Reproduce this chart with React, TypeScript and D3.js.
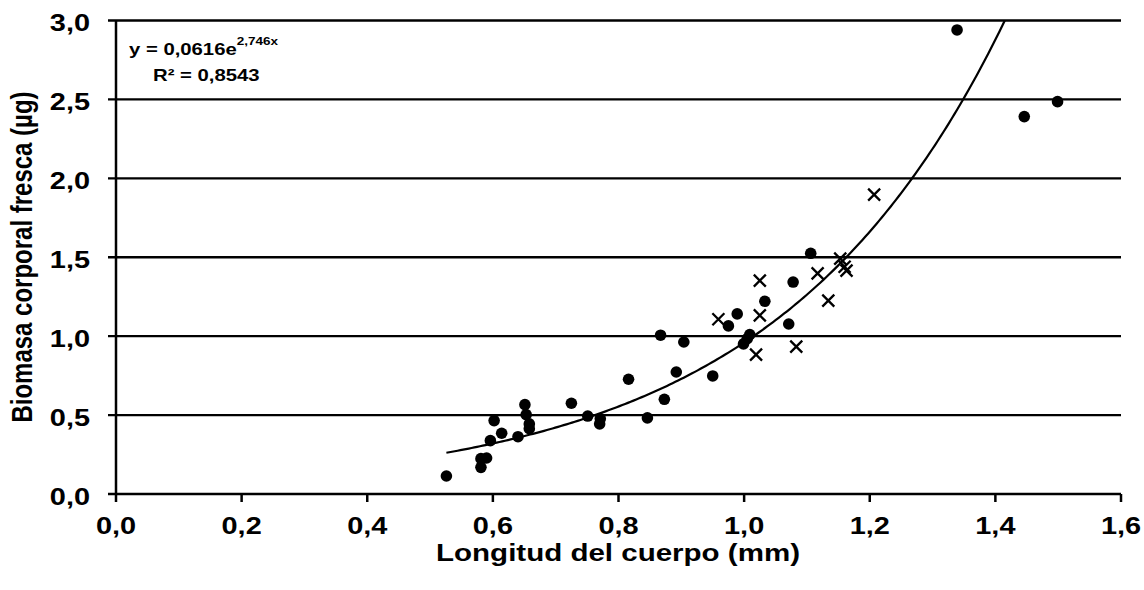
import { useEffect, useRef } from "react";
import * as d3 from "d3";

// circles: first group of measurements
const circleX = [
  0.526, 0.581, 0.581, 0.59, 0.596, 0.602, 0.614, 0.64, 0.651, 0.653, 0.658, 0.658,
  0.725, 0.751, 0.771, 0.77, 0.816, 0.846, 0.867, 0.873, 0.892, 0.904, 0.95, 0.975,
  0.989, 0.999, 1.005, 1.009, 1.033, 1.071, 1.078, 1.106, 1.339, 1.446, 1.499,
];
const circleY = [
  0.114, 0.169, 0.224, 0.228, 0.338, 0.465, 0.385, 0.363, 0.566, 0.503, 0.444, 0.414,
  0.575, 0.494, 0.477, 0.444, 0.727, 0.482, 1.006, 0.6, 0.773, 0.963, 0.748, 1.065,
  1.141, 0.951, 0.984, 1.01, 1.221, 1.077, 1.343, 1.525, 2.94, 2.391, 2.486,
];

// crosses: second group
const crossX = [0.959, 1.019, 1.025, 1.025, 1.083, 1.117, 1.134, 1.153, 1.16, 1.163, 1.207];
const crossY = [1.107, 0.883, 1.132, 1.352, 0.934, 1.398, 1.225, 1.491, 1.44, 1.415, 1.897];

// exponential trendline y = a * e^(b x)
const trendA = 0.0616;
const trendB = 2.746;
const trendStart = 0.526;

const xTicks = [0, 0.2, 0.4, 0.6, 0.8, 1.0, 1.2, 1.4, 1.6];
const yTicks = [0, 0.5, 1.0, 1.5, 2.0, 2.5, 3.0];

const fmt = (v: number) => v.toFixed(1).replace(".", ",");

const W = 1144;
const H = 590;
const left = 116;
const right = 1121;
const top = 20.5;
const bottom = 494;
const stretch = 1.23;
const font = "'Liberation Sans', Arial, sans-serif";

export default function App() {
  const svgRef = useRef<SVGSVGElement>(null);

  useEffect(() => {
    if (!svgRef.current) return;
    const svg = d3.select(svgRef.current);
    svg.selectAll("*").remove();

    const x = d3.scaleLinear().domain([0, 1.6]).range([left, right]);
    const y = d3.scaleLinear().domain([0, 3]).range([bottom, top]);

    // horizontal gridlines with outward ticks
    svg
      .append("g")
      .selectAll("line")
      .data(yTicks.slice(1))
      .enter()
      .append("line")
      .attr("x1", left - 8)
      .attr("x2", right)
      .attr("y1", (d) => y(d))
      .attr("y2", (d) => y(d))
      .attr("stroke", "#000")
      .attr("stroke-width", 2.4);

    // axes
    svg
      .append("line")
      .attr("x1", left - 8)
      .attr("x2", right)
      .attr("y1", bottom)
      .attr("y2", bottom)
      .attr("stroke", "#000")
      .attr("stroke-width", 2.5);
    svg
      .append("line")
      .attr("x1", left)
      .attr("x2", left)
      .attr("y1", top)
      .attr("y2", bottom + 8)
      .attr("stroke", "#000")
      .attr("stroke-width", 2.5);

    svg
      .append("g")
      .selectAll("line")
      .data(xTicks.slice(1))
      .enter()
      .append("line")
      .attr("x1", (d) => x(d))
      .attr("x2", (d) => x(d))
      .attr("y1", bottom)
      .attr("y2", bottom + 8)
      .attr("stroke", "#000")
      .attr("stroke-width", 2.5);

    // tick labels
    svg
      .append("g")
      .selectAll("text")
      .data(xTicks)
      .enter()
      .append("text")
      .attr("transform", (d) => `translate(${x(d)},534) scale(${stretch},1)`)
      .attr("text-anchor", "middle")
      .attr("font-family", font)
      .attr("font-weight", "bold")
      .attr("font-size", 23.5)
      .text((d) => fmt(d));

    svg
      .append("g")
      .selectAll("text")
      .data(yTicks)
      .enter()
      .append("text")
      .attr("transform", (d) => `translate(90,${y(d) + 10.5}) scale(${stretch},1)`)
      .attr("text-anchor", "end")
      .attr("font-family", font)
      .attr("font-weight", "bold")
      .attr("font-size", 23.5)
      .text((d) => fmt(d));

    // axis titles
    svg
      .append("text")
      .attr("transform", `translate(618,561) scale(${stretch},1)`)
      .attr("text-anchor", "middle")
      .attr("font-family", font)
      .attr("font-weight", "bold")
      .attr("font-size", 24)
      .text("Longitud del cuerpo (mm)");

    svg
      .append("text")
      .attr("transform", `translate(32,257) scale(${stretch},1) rotate(-90)`)
      .attr("text-anchor", "middle")
      .attr("font-family", font)
      .attr("font-weight", "bold")
      .attr("font-size", 24)
      .text("Biomasa corporal fresca (µg)");

    // trendline
    const xEnd = Math.log(3 / trendA) / trendB;
    const xs = d3.range(0, 201).map((i) => trendStart + ((xEnd - trendStart) * i) / 200);
    const line = d3
      .line<number>()
      .x((d) => x(d))
      .y((d) => y(trendA * Math.exp(trendB * d)));
    svg
      .append("path")
      .attr("d", line(xs) ?? "")
      .attr("fill", "none")
      .attr("stroke", "#000")
      .attr("stroke-width", 2.2);

    // circles
    svg
      .append("g")
      .selectAll("circle")
      .data(circleX.map((v, i) => [v, circleY[i]]))
      .enter()
      .append("circle")
      .attr("cx", (d) => x(d[0]))
      .attr("cy", (d) => y(d[1]))
      .attr("r", 5.8)
      .attr("fill", "#000");

    // crosses
    const s = 6;
    svg
      .append("g")
      .selectAll("path")
      .data(crossX.map((v, i) => [v, crossY[i]]))
      .enter()
      .append("path")
      .attr("d", (d) => {
        const cx = x(d[0]);
        const cy = y(d[1]);
        return `M${cx - s},${cy - s}L${cx + s},${cy + s}M${cx - s},${cy + s}L${cx + s},${cy - s}`;
      })
      .attr("stroke", "#000")
      .attr("stroke-width", 2.3)
      .attr("fill", "none");

    // equation
    const eq = svg
      .append("text")
      .attr("transform", `translate(129,54.5) scale(${stretch},1)`)
      .attr("font-family", font)
      .attr("font-weight", "bold")
      .attr("font-size", 16.5);
    eq.append("tspan").text("y = 0,0616e");
    eq.append("tspan").attr("font-size", 11).attr("dy", -10).text("2,746x");

    svg
      .append("text")
      .attr("transform", `translate(153,81) scale(${stretch},1)`)
      .attr("font-family", font)
      .attr("font-weight", "bold")
      .attr("font-size", 16.5)
      .text("R² = 0,8543");
  }, []);

  return (
    <svg
      ref={svgRef}
      width={W}
      height={H}
      style={{ position: "absolute", left: 0, top: 0, background: "#fff" }}
    ></svg>
  );
}
